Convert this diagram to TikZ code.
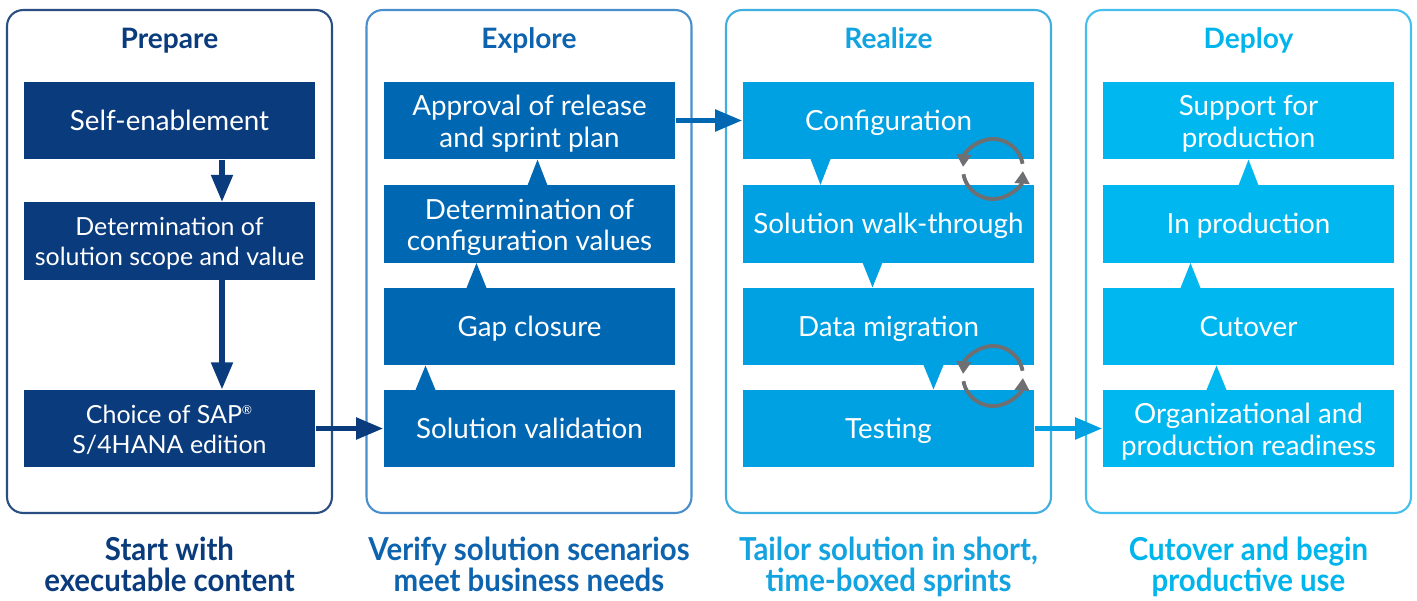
\documentclass[tikz,border=0pt]{standalone}
\usepackage{fontspec}
\setmainfont{Lato}
\newfontfamily\condfont[FakeStretch=0.93]{Lato}
\usetikzlibrary{arrows.meta,calc}
\newcommand\mytopstrut{\rule{0pt}{1em}}
\newcommand\mybotstrut{\rule[-0.28em]{0pt}{0pt}}
\newcommand\mytall{\rule{0pt}{1.06em}}
\definecolor{cP}{HTML}{0A3B7C}
\definecolor{cE}{HTML}{0067B3}
\definecolor{cR}{HTML}{00A1E2}
\definecolor{cD}{HTML}{00B8EF}
\definecolor{tP}{HTML}{0A3B7C}
\definecolor{tE}{HTML}{0D63AE}
\definecolor{tR}{HTML}{12A3E0}
\definecolor{tD}{HTML}{00B5EC}
\definecolor{bP}{HTML}{2A4E82}
\definecolor{bE}{HTML}{4A8FCB}
\definecolor{bR}{HTML}{3FAFE2}
\definecolor{bD}{HTML}{45C0EE}
\definecolor{cyc}{HTML}{6E6F72}
\tikzset{
  fixv/.style={execute at begin node=\mytopstrut, execute at end node=\mybotstrut},
  panel/.style={draw=#1, line width=1.2pt, rounded corners=0.32cm, minimum width=6.5cm, minimum height=10.06cm, inner sep=0pt},
  stepbox/.style={fill=#1, text=white, minimum width=5.84cm, minimum height=1.55cm, inner sep=0pt, align=center, font=\fontsize{15.8}{17.9}\selectfont, fixv},
  smalltext/.style={font=\fontsize{14.2}{17}\selectfont},
  ttl/.style={text=#1, font=\bfseries\fontsize{16}{18}\selectfont, fixv},
  btm/.style={text=#1, align=center, font=\condfont\bfseries\fontsize{18}{17.6}\selectfont, fixv},
  flowarrow/.style={draw=#1, line width=2.9pt, -{Triangle[length=0.54cm,width=0.42cm]}},
  notch/.style={fill=#1},
  cycarrow/.style={draw=cyc, line width=2.2pt, -{Triangle[length=0.25cm,width=0.29cm]}}
}
\begin{document}
\begin{tikzpicture}[x=0.02cm,y=-0.02cm]
\useasboundingbox (0,0) rectangle (1417,601);
% panels
\node[panel=bP] (PP) at (169.5,261.5) {};
\node[panel=bE] (PE) at (529,261.5) {};
\node[panel=bR] (PR) at (888.5,261.5) {};
\node[panel=bD] (PD) at (1248.5,261.5) {};
% titles
\node[ttl=tP] (tp) at (169.5,38) {Prepare};
\node[ttl=tE] (te) at (529,38) {Explore};
\node[ttl=tR] (tr) at (888.5,38) {Realize};
\node[ttl=tD] (td) at (1248.5,38) {Deploy};
% Prepare
\node[stepbox=cP] (p1) at (169.5,120.5) {Self-enablement};
\node[stepbox=cP, smalltext] (p2) at (169.5,241) {\mytall Determination of\\solution scope and value};
\node[stepbox=cP, smalltext] (p3) at (169.5,428.5) {\mytall Choice of SAP\textsuperscript{\scriptsize\textregistered}\\S/4HANA edition};
% Explore
\node[stepbox=cE] (e1) at (529.5,120.5) {\mytall Approval of release\\and sprint plan};
\node[stepbox=cE] (e2) at (529.5,224) {\mytall Determination of\\configuration values};
\node[stepbox=cE] (e3) at (529.5,326.5) {Gap closure};
\node[stepbox=cE] (e4) at (529.5,428.5) {Solution validation};
% Realize
\node[stepbox=cR] (r1) at (888.5,120.5) {Configuration};
\node[stepbox=cR] (r2) at (888.5,224) {Solution walk-through};
\node[stepbox=cR] (r3) at (888.5,326.5) {Data migration};
\node[stepbox=cR] (r4) at (888.5,428.5) {Testing};
% Deploy
\node[stepbox=cD] (d1) at (1248.5,120.5) {\mytall Support for\\production};
\node[stepbox=cD] (d2) at (1248.5,224) {In production};
\node[stepbox=cD] (d3) at (1248.5,326.5) {Cutover};
\node[stepbox=cD] (d4) at (1248.5,428.5) {\mytall Organizational and\\production readiness};
% notches Explore (up)
\fill[notch=cE] ($(e4.north)+(-114,0.5)$) -- ($(e4.north)+(-94,0.5)$) -- ($(e3.south)+(-104,0)$) -- cycle;
\fill[notch=cE] ($(e3.north)+(-63,0.5)$) -- ($(e3.north)+(-43,0.5)$) -- ($(e2.south)+(-53,0)$) -- cycle;
\fill[notch=cE] ($(e2.north)+(-2,0.5)$) -- ($(e2.north)+(18,0.5)$) -- ($(e1.south)+(8,0)$) -- cycle;
% notches Realize (down)
\fill[notch=cR] ($(r1.south)+(-78,-0.5)$) -- ($(r1.south)+(-58,-0.5)$) -- ($(r2.north)+(-68,0)$) -- cycle;
\fill[notch=cR] ($(r2.south)+(-26,-0.5)$) -- ($(r2.south)+(-6,-0.5)$) -- ($(r3.north)+(-16,0)$) -- cycle;
\fill[notch=cR] ($(r3.south)+(35,-0.5)$) -- ($(r3.south)+(55,-0.5)$) -- ($(r4.north)+(45,0)$) -- cycle;
% notches Deploy (up)
\fill[notch=cD] ($(d2.north)+(-10,0.5)$) -- ($(d2.north)+(10,0.5)$) -- ($(d1.south)+(0,0)$) -- cycle;
\fill[notch=cD] ($(d3.north)+(-68,0.5)$) -- ($(d3.north)+(-48,0.5)$) -- ($(d2.south)+(-58,0)$) -- cycle;
\fill[notch=cD] ($(d4.north)+(-42,0.5)$) -- ($(d4.north)+(-22,0.5)$) -- ($(d3.south)+(-32,0)$) -- cycle;
% Prepare arrows
\draw[flowarrow=cP] ($(p1.south)+(52.5,0)$) -- ($(p2.north)+(52.5,0)$);
\draw[flowarrow=cP] ($(p2.south)+(52.5,0)$) -- ($(p3.north)+(52.5,0)$);
% phase arrows
\draw[flowarrow=cP] (p3.east) -- (e4.west);
\draw[flowarrow=cE] (e1.east) -- (r1.west);
\draw[flowarrow=cR] (r4.east) -- (d4.west);
% cycle arrows
\coordinate (c1) at (993,169);
\coordinate (c2) at (993,376);
\draw[cycarrow] ($(c1)+(10:0.6cm)$) arc[start angle=10, end angle=176, radius=0.6cm];
\draw[cycarrow] ($(c1)+(190:0.6cm)$) arc[start angle=190, end angle=356, radius=0.6cm];
\draw[cycarrow] ($(c2)+(10:0.6cm)$) arc[start angle=10, end angle=176, radius=0.6cm];
\draw[cycarrow] ($(c2)+(190:0.6cm)$) arc[start angle=190, end angle=356, radius=0.6cm];
% bottom texts
\node[btm=tP] (bp) at (169.5,564) {\mytall Start with\\executable content};
\node[btm=tE] (be) at (529,564) {\mytall Verify solution scenarios\\meet business needs};
\node[btm=tR] (br) at (888.5,564) {\mytall Tailor solution in short,\\time-boxed sprints};
\node[btm=tD] (bd) at (1248.5,564) {\mytall Cutover and begin\\productive use};
\end{tikzpicture}
\end{document}
